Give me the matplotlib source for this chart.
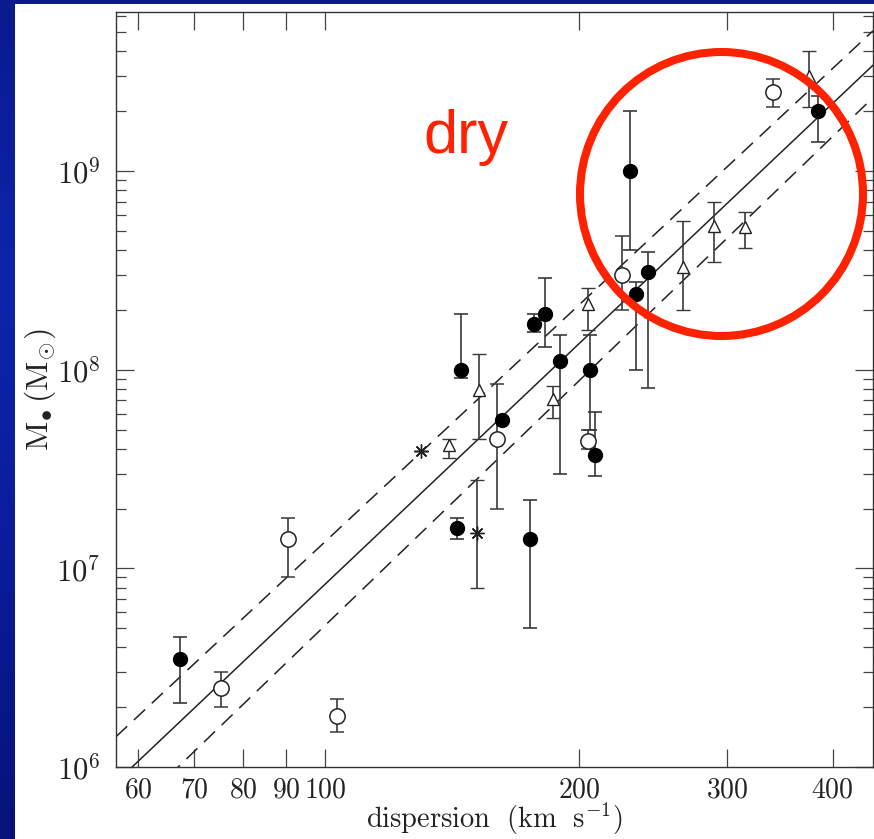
import numpy as np
import matplotlib
matplotlib.use("Agg")
import matplotlib.pyplot as plt
from matplotlib.patches import Rectangle, Ellipse
from matplotlib.ticker import FixedLocator, NullFormatter, LogLocator, NullLocator
from matplotlib.colors import LinearSegmentedColormap

plt.rcParams['mathtext.fontset'] = 'cm'

# ---------------- data ----------------
# filled circles: sigma, M, lower, upper
filled_sigma = [67.3, 145.0, 143.4, 162.2, 175.1, 177.0, 182.4, 190.0, 206.2, 209.1, 230.1, 233.9, 241.6, 384.6]
filled_m     = [3.5e6, 1.0e8, 1.6e7, 5.6e7, 1.4e7, 1.7e8, 1.9e8, 1.1e8, 1.0e8, 3.7e7, 1.0e9, 2.4e8, 3.1e8, 2.0e9]
filled_lo    = [2.1e6, 9.1e7, 1.4e7, 5.6e7, 5.0e6, 1.55e8, 1.3e8, 3.0e7, 5.0e7, 2.9e7, 4.0e8, 1.0e8, 8.1e7, 1.4e9]
filled_hi    = [4.5e6, 1.9e8, 1.8e7, 5.6e7, 2.2e7, 1.9e8, 2.9e8, 1.5e8, 1.5e8, 6.1e7, 2.0e9, 2.76e8, 3.9e8, 2.4e9]

# open circles
open_sigma = [75.3, 90.4, 103.3, 160.0, 205.1, 225.1, 340.1]
open_m     = [2.5e6, 1.4e7, 1.8e6, 4.5e7, 4.4e7, 3.0e8, 2.5e9]
open_lo    = [2.0e6, 9.0e6, 1.5e6, 2.0e7, 4.0e7, 2.0e8, 2.1e9]
open_hi    = [3.0e6, 1.8e7, 2.2e6, 8.5e7, 5.0e7, 4.7e8, 2.9e9]

# open triangles
tri_sigma = [140.3, 152.3, 186.4, 205.1, 266.0, 289.5, 315.0, 375.2]
tri_m     = [4.2e7, 7.9e7, 7.1e7, 2.14e8, 3.3e8, 5.3e8, 5.2e8, 3.0e9]
tri_lo    = [3.6e7, 4.5e7, 5.7e7, 1.58e8, 2.0e8, 3.5e8, 4.1e8, 2.1e9]
tri_hi    = [4.5e7, 1.2e8, 8.3e7, 2.57e8, 5.6e8, 7.0e8, 6.2e8, 4.0e9]

# asterisks
ast_sigma = [130.0, 151.4]
ast_m     = [3.9e7, 1.5e7]
ast_lo    = [3.9e7, 8.0e6]
ast_hi    = [3.9e7, 2.8e7]

# fits: log M = alpha + beta * log(sigma/200)
fit_alpha = [8.13, 8.325, 7.943]
fit_beta  = [4.02, 3.957, 4.088]
fit_style = ['-', '--', '--']

x_ticks = [60, 70, 80, 90, 100, 200, 300, 400]
x_ticklabels = ['60', '70', '80', '90', '100', '200', '300', '400']
y_ticks = [1e6, 1e7, 1e8, 1e9]
y_ticklabels = [r'$10^{6}$', r'$10^{7}$', r'$10^{8}$', r'$10^{9}$']

# ---------------- figure ----------------
W, H = 874, 839
fig = plt.figure(figsize=(W / 100, H / 100), dpi=100)

# blue gradient background
bg = fig.add_axes([0, 0, 1, 1], zorder=-10)
grad = np.linspace(0, 1, 256).reshape(-1, 1)
cmap = LinearSegmentedColormap.from_list('b', ['#0a1a8e', '#0d25ad', '#0a1c9a', '#06137a'])
bg.imshow(grad, aspect='auto', cmap=cmap, extent=[0, 1, 0, 1], origin='upper')
bg.set_axis_off()

fig.patches.append(Rectangle((15 / W, 0), 1 - 15 / W, 1 - 4 / H, transform=fig.transFigure,
                             facecolor='white', edgecolor='none', zorder=-5))

ax_l, ax_r, ax_t, ax_b = 116, 873, 12, 767
ax = fig.add_axes([ax_l / W, 1 - ax_b / H, (ax_r - ax_l) / W, (ax_b - ax_t) / H])
ax.set_xscale('log')
ax.set_yscale('log')
ax.set_xlim(56.5, 446.7)
ax.set_ylim(1e6, 6.32e9)

# fit lines
sg = np.logspace(np.log10(56.5), np.log10(446.7), 200)
for a, b, ls in zip(fit_alpha, fit_beta, fit_style):
    mm = 10 ** (a + b * np.log10(sg / 200.0))
    line, = ax.plot(sg, mm, color='#222222', lw=1.1, ls=ls)
    if ls == '--':
        line.set_dashes((10, 6))

ecol = '#3a3a3a'
def eb(s, m, lo, hi, **kw):
    s = np.array(s); m = np.array(m); lo = np.array(lo); hi = np.array(hi)
    ax.errorbar(s, m, yerr=[m - lo, hi - m], ecolor=ecol, elinewidth=1.2,
                capsize=5, capthick=1.2, ls='none', **kw)

eb(filled_sigma, filled_m, filled_lo, filled_hi, marker='o', ms=10,
   mfc='black', mec='black')
eb(open_sigma, open_m, open_lo, open_hi, marker='o', ms=11,
   mfc='white', mec='#222222', mew=1.1)
eb(tri_sigma, tri_m, tri_lo, tri_hi, marker='^', ms=9,
   mfc='white', mec='#222222', mew=1.0)
eb(ast_sigma, ast_m, ast_lo, ast_hi, marker=(8, 2, 0), ms=10,
   mfc='#222222', mec='#222222', mew=1.0)

# ticks
ax.xaxis.set_major_locator(FixedLocator(x_ticks))
ax.xaxis.set_minor_locator(NullLocator())
ax.set_xticklabels([r'$%s$' % t for t in x_ticklabels])
ax.yaxis.set_major_locator(FixedLocator(y_ticks))
ax.yaxis.set_minor_locator(LogLocator(base=10, subs=np.arange(2, 10)))
ax.yaxis.set_minor_formatter(NullFormatter())
ax.set_yticklabels(y_ticklabels)

ax.tick_params(which='both', direction='in', top=True, right=True, color='#444444', width=0.9)
ax.tick_params(which='major', length=13)
ax.tick_params(which='minor', length=7)
ax.tick_params(axis='x', labelsize=20, pad=6, labelcolor='#222222')
ax.tick_params(axis='y', labelsize=22, pad=11, labelcolor='#222222')
for sp in ax.spines.values():
    sp.set_color('#333333')
    sp.set_linewidth(1.0)

ax.set_xlabel(r'$\mathrm{dispersion\ \ (km\ \ s^{-1})}$', fontsize=20.5, color='#222222', va='center')
ax.xaxis.set_label_coords(0.5, -(819 - ax_b) / (ax_b - ax_t))
ax.set_ylabel(r'$\mathrm{M}_{\bullet}\,(\mathrm{M}_{\odot})$', fontsize=23, color='#222222', va='center')
ax.yaxis.set_label_coords(-(ax_l - 40) / (ax_r - ax_l), 0.5)

# annotation
fig.text(423 / W, 1 - 153 / H, 'dry', color='#ff2200', fontsize=44,
         family='Liberation Sans', ha='left', va='baseline')
fig.patches.append(Ellipse((721.5 / W, 1 - 194 / H), 283 / W, 284 / H, transform=fig.transFigure,
                           facecolor='none', edgecolor='#ff2200', lw=5.8, zorder=20))

fig.savefig('out.png', dpi=100)
